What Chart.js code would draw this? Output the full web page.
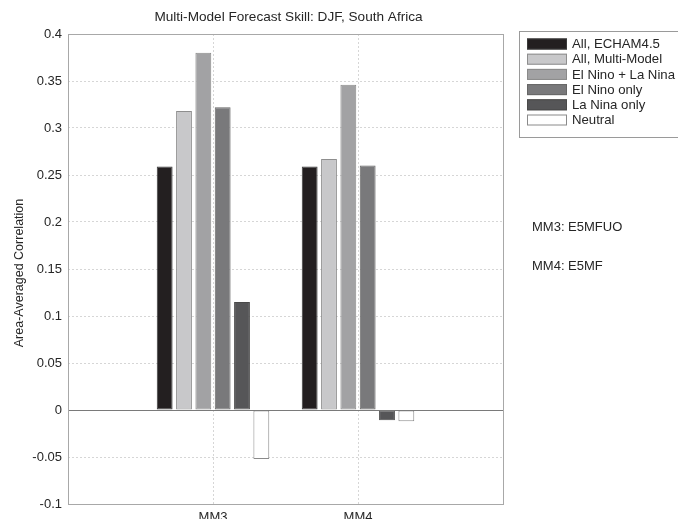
<!DOCTYPE html>
<html>
<head>
<meta charset="utf-8">
<script src="https://cdn.jsdelivr.net/npm/chart.js@4/dist/chart.umd.min.js"></script>
<style>
  html, body { margin: 0; padding: 0; background: #ffffff; }
  #wrap { width: 678px; height: 519px; }
</style>
</head>
<body>
<div id="wrap"><canvas id="chart" width="678" height="519"></canvas></div>
<script>
// Forecast skill per multi-model combination
const categories = ['MM3', 'MM4'];
const seriesNames = ['All, ECHAM4.5', 'All, Multi-Model', 'El Nino + La Nina', 'El Nino only', 'La Nina only', 'Neutral'];
const allEcham = [0.259, 0.259];
const allMultiModel = [0.318, 0.267];
const elNinoLaNina = [0.380, 0.346];
const elNinoOnly = [0.322, 0.260];
const laNinaOnly = [0.115, -0.011];
const neutral = [-0.052, -0.012];
const yTickValues = [-0.1, -0.05, 0, 0.05, 0.1, 0.15, 0.2, 0.25, 0.3, 0.35, 0.4];
const notes = ['MM3: E5MFUO', 'MM4: E5MF'];

const chartTitle = 'Multi-Model Forecast Skill: DJF, South Africa';
const yAxisTitle = 'Area-Averaged Correlation';

const seriesValues = [allEcham, allMultiModel, elNinoLaNina, elNinoOnly, laNinaOnly, neutral];
const fills = ['#231f20', '#c8c8ca', '#a2a2a4', '#79797b', '#565658', '#ffffff'];
const edges = ['#3a3a3a', '#8e8e8e', '#8a8a8a', '#666666', '#4a4a4a', '#8a8a8a'];

// empty slots at both ends so the two groups sit at 1/3 and 2/3 of the axis
const xLabels = [''].concat(categories, ['']);
const pad = vals => [null].concat(vals, [null]);

const FONT = "'Liberation Sans', Arial, sans-serif";
const TEXT = '#262626';

const datasets = seriesNames.map((name, i) => ({
  label: name,
  data: pad(seriesValues[i]),
  backgroundColor: fills[i],
  borderColor: edges[i],
  borderWidth: 1,
  borderSkipped: false,
  categoryPercentage: 0.8,
  barPercentage: 0.82
}));

const decorations = {
  id: 'decorations',
  afterDatasetsDraw(chart) {
    const { ctx, chartArea: a, scales } = chart;
    const y0 = Math.round(scales.y.getPixelForValue(0)) + 0.5;
    ctx.save();
    ctx.strokeStyle = '#7a7a7a';
    ctx.lineWidth = 1;
    ctx.beginPath();
    ctx.moveTo(a.left, y0);
    ctx.lineTo(a.right, y0);
    ctx.stroke();
    // axes box
    ctx.strokeStyle = '#a8a8a8';
    ctx.strokeRect(Math.round(a.left) + 0.5, Math.round(a.top) + 0.5,
                   Math.round(a.right - a.left), Math.round(a.bottom - a.top));
    ctx.restore();
  },
  afterDraw(chart) {
    const { ctx, chartArea: a } = chart;
    ctx.save();
    ctx.fillStyle = TEXT;
    // title
    ctx.font = '13.6px ' + FONT;
    ctx.textAlign = 'center';
    ctx.textBaseline = 'middle';
    ctx.fillText(chartTitle, (a.left + a.right) / 2 + 3, 17);
    // y-axis title
    ctx.font = '12.5px ' + FONT;
    ctx.save();
    ctx.translate(20, 273);
    ctx.rotate(-Math.PI / 2);
    ctx.fillText(yAxisTitle, 0, 0);
    ctx.restore();
    // legend
    const lx = 519, ly = 31, rowH = 15.2;
    ctx.strokeStyle = '#9a9a9a';
    ctx.lineWidth = 1;
    ctx.fillStyle = '#ffffff';
    ctx.fillRect(lx + 0.5, ly + 0.5, 170, 106);
    ctx.strokeRect(lx + 0.5, ly + 0.5, 170, 106);
    ctx.textAlign = 'left';
    ctx.font = '13.2px ' + FONT;
    chart.data.datasets.forEach((ds, i) => {
      const cy = ly + 13 + i * rowH;
      ctx.fillStyle = ds.backgroundColor;
      ctx.fillRect(lx + 8, cy - 5.5, 40, 11);
      ctx.strokeStyle = ds.borderColor;
      ctx.strokeRect(lx + 8.5, cy - 5, 39, 10);
      ctx.fillStyle = TEXT;
      ctx.fillText(ds.label, lx + 53, cy + 0.5);
    });
    // combination notes
    ctx.font = '13px ' + FONT;
    ctx.fillText(notes[0], 532, 227);
    ctx.fillText(notes[1], 532, 266);
    ctx.restore();
  }
};

new Chart(document.getElementById('chart'), {
  type: 'bar',
  data: { labels: xLabels, datasets },
  options: {
    responsive: false,
    animation: false,
    devicePixelRatio: 1,
    layout: { padding: { top: 34, right: 175, left: 0, bottom: 0 } },
    plugins: {
      legend: { display: false },
      title: { display: false },
      tooltip: { enabled: false }
    },
    scales: {
      x: {
        type: 'category',
        offset: false,
        grid: { offset: false, color: '#d6d6d6', drawTicks: false, lineWidth: 1 },
        border: { display: false, dash: [2, 2] },
        ticks: { autoSkip: false, maxRotation: 0, padding: 6, color: TEXT, font: { family: FONT, size: 13 } },
        afterFit(scale) { scale.height = 15; }
      },
      y: {
        min: yTickValues[0],
        max: yTickValues[yTickValues.length - 1],
        afterBuildTicks(scale) { scale.ticks = yTickValues.map(v => ({ value: v })); },
        grid: { color: '#d6d6d6', drawTicks: false, lineWidth: 1 },
        border: { display: false, dash: [2, 2] },
        ticks: {
          padding: 6,
          color: TEXT,
          font: { family: FONT, size: 13 },
          callback: v => String(Math.round(v * 100) / 100)
        },
        afterFit(scale) { scale.width = 68; }
      }
    }
  },
  plugins: [decorations]
});
</script>
</body>
</html>
